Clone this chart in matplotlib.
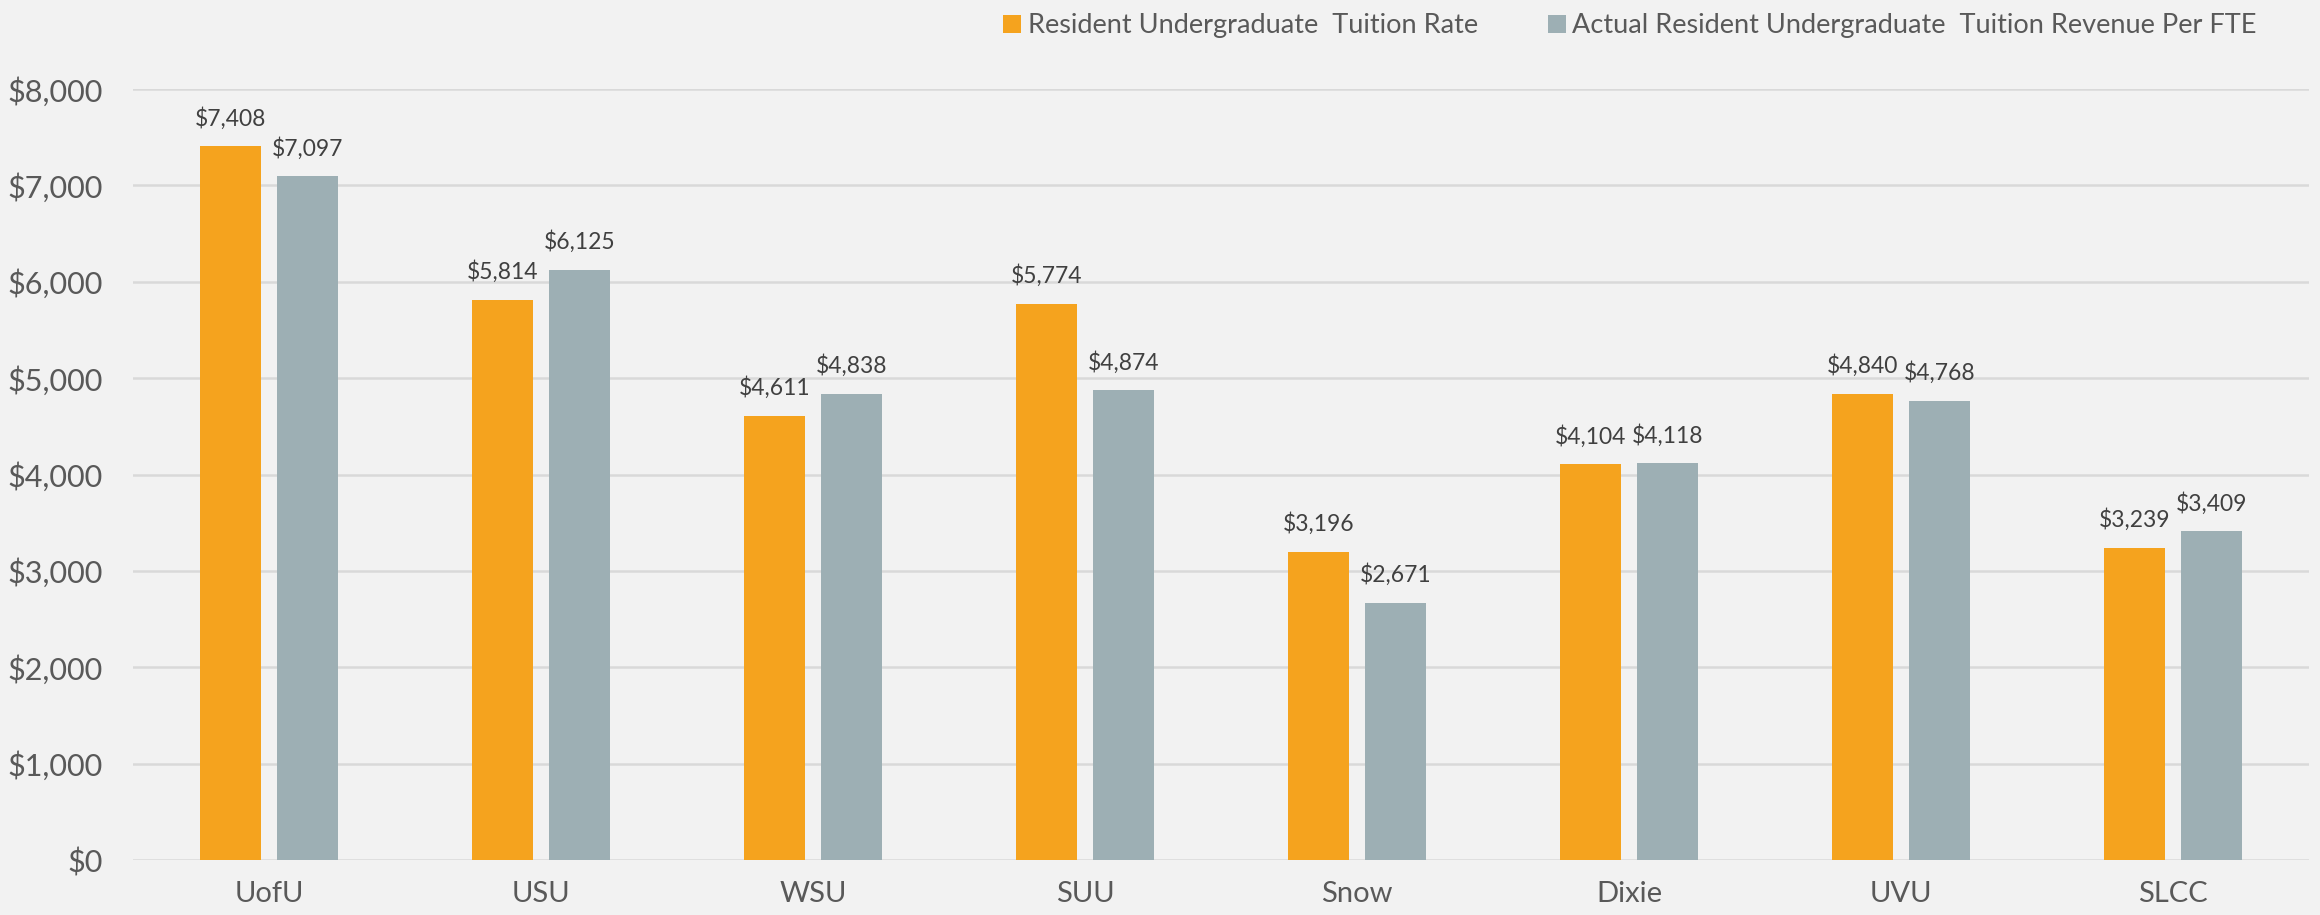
import numpy as np
import matplotlib.pyplot as plt

schools = ['UofU', 'USU', 'WSU', 'SUU', 'Snow', 'Dixie', 'UVU', 'SLCC']
tuition_rate = [7408, 5814, 4611, 5774, 3196, 4104, 4840, 3239]
revenue_fte = [7097, 6125, 4838, 4874, 2671, 4118, 4768, 3409]
yticks = [0, 1000, 2000, 3000, 4000, 5000, 6000, 7000, 8000]

plt.rcParams['font.family'] = ['Lato', 'DejaVu Sans']

bg = '#F2F2F2'
orange = '#F5A31E'
grey = '#9DAFB4'
txt = '#595959'

fig = plt.figure(figsize=(23.2, 9.15), dpi=100, facecolor=bg)
ax = fig.add_axes([0.0573, 0.0601, 0.938, 0.8426], facecolor=bg)

x = np.arange(len(schools))
w = 0.224
off = 0.1415
b1 = ax.bar(x - off, tuition_rate, w, color=orange, label='Resident Undergraduate  Tuition Rate', zorder=3)
b2 = ax.bar(x + off, revenue_fte, w, color=grey, label='Actual Resident Undergraduate  Tuition Revenue Per FTE', zorder=3)

for bars in (b1, b2):
    ax.bar_label(bars, labels=['${:,}'.format(v) for v in bars.datavalues],
                 padding=12, fontsize=16.5, color='#404040')

ax.set_xlim(-0.5, len(schools) - 0.5)
ax.set_ylim(0, 8000)
ax.set_yticks(yticks)
ax.set_yticklabels(['${:,}'.format(v) for v in yticks])
ax.set_xticks(x)
ax.set_xticklabels(schools)
ax.tick_params(axis='both', length=0, colors=txt)
ax.tick_params(axis='y', labelsize=22, pad=22)
ax.tick_params(axis='x', labelsize=21, pad=15)
ax.grid(axis='y', color='#D9D9D9', linewidth=1.8, zorder=0)
for s in ax.spines.values():
    s.set_visible(False)

fig.legend(loc='center', bbox_to_anchor=(0.7026, 0.972), ncol=2, frameon=False,
           fontsize=19.5, labelcolor=txt, handlelength=0.65, handleheight=0.65,
           handletextpad=0.25, columnspacing=2.6)

plt.savefig('out.png', dpi=100, facecolor=bg)
